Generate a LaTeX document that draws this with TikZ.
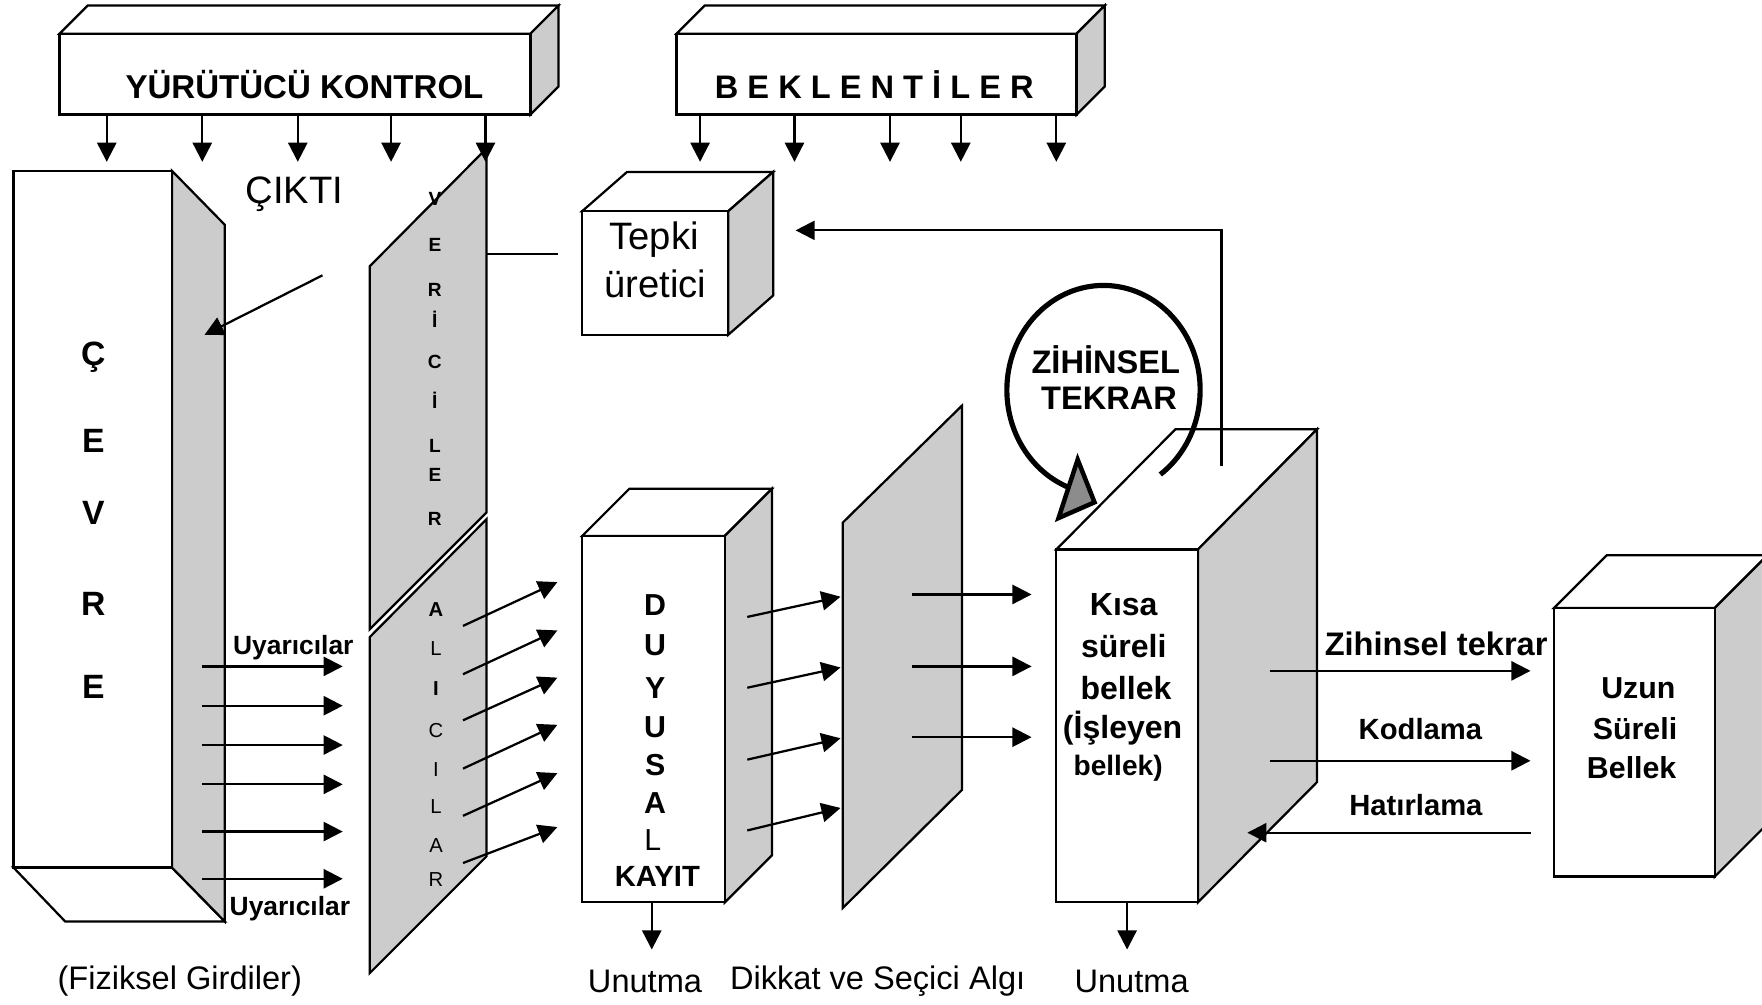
\documentclass[tikz,border=0pt]{standalone}
\usepackage{fontspec}
\setmainfont{Liberation Sans}
\usetikzlibrary{arrows.meta}

\begin{document}
\begin{tikzpicture}[x=0.5pt,y=-0.5pt,line width=1pt,>={Triangle[length=8.5pt,width=8.5pt]},
  face/.style={draw,fill=white},
  side/.style={draw,fill=black!20},
  txt/.style={inner sep=0pt,font=\fontsize{#1}{#1}\selectfont},
  btxt/.style={inner sep=0pt,font=\bfseries\fontsize{#1}{#1}\selectfont}]
  \useasboundingbox (0,0) rectangle (1568,894);
  \clip (0,0) rectangle (1568,894);
  \foreach \nm/\xa/\ya/\xb/\yb/\dx/\dy in {kontrol/53/30/472/102/25/-25,beklenti/602/30/958/102/25/-25,
      tepki/518/188/648/298/40/-35,duyusal/518/477/645/803/42/-42,kisa/940/489/1066/803/106/-107,
      uzun/1383/541/1526/780/47/-47}{
    \draw[face] (\xa,\ya) -- ({\xa+\dx},{\ya+\dy}) -- ({\xb+\dx},{\ya+\dy}) -- (\xb,\ya) -- cycle;
    \draw[side] (\xb,\ya) -- ({\xb+\dx},{\ya+\dy}) -- ({\xb+\dx},{\yb+\dy}) -- (\xb,\yb) -- cycle;
    \draw[face] (\xa,\ya) rectangle (\xb,\yb);
  }
  \draw[face] (12,772) -- (153,772) -- (200,820) -- (58,820) -- cycle;
  \draw[side] (153,152) -- (200,200) -- (200,820) -- (153,772) -- cycle;
  \draw[face] (12,152) rectangle (153,772);
  \draw[side] (329,237) -- (433,132) -- (433,456) -- (329,560) -- cycle;
  \draw[side] (329,567) -- (433,462) -- (433,762) -- (329,866) -- cycle;
  \draw[side] (750,465) -- (856,361) -- (856,703) -- (750,808) -- cycle;

  \node[btxt=14.7] (kontroltxt) at (271,75) {YÜRÜTÜCÜ KONTROL};
  \node[btxt=14.5] (beklentitxt) at (778,75) {B E K L E N T İ L E R};
  \node[txt=17] (cikti) at (262,173) {ÇIKTI};
  \node[txt=17] (tepki1) at (582,213) {Tepki};
  \node[txt=17] (tepki2) at (583,253) {üretici};
  \foreach \l/\y [count=\i] in {Ç/318,E/392,V/456,R/537,E/611}
    \node[btxt=15] (cevre\i) at (83,\y) {\l};
  \foreach \l/\y [count=\i] in {V/177,E/218,R/258,İ/284,C/322,İ/356,L/397,E/423,R/462}
    \node[btxt=8.5] (verici\i) at (387,\y) {\l};
  \foreach \l/\y [count=\i] in {{\bfseries A}/542,L/577,{\bfseries I}/613,C/650,I/685,L/718,A/752,R/783}
    \node[txt=9] (alici\i) at (388,\y) {\l};
  \foreach \l/\y [count=\i] in {D/538,U/574,Y/612,U/647,S/681,A/715}
    \node[btxt=13.5] (duyu\i) at (583,\y) {\l};
  \node[txt=13.5] (duyu7) at (581,748) {L};
  \node[btxt=13] (kayit) at (585,780) {KAYIT};
  \node[btxt=11.75] (uyar1) at (261,576) {Uyarıcılar};
  \node[btxt=11.75] (uyar2) at (258,809) {Uyarıcılar};
  \node[btxt=14.5] (zih1) at (984,320) {ZİHİNSEL};
  \node[btxt=14.5] (zih2) at (987,354) {TEKRAR};
  \node[btxt=14.25] (kisa1) at (1000,538) {Kısa};
  \node[btxt=14.25] (kisa2) at (1000,575) {süreli};
  \node[btxt=14.25] (kisa3) at (1002,612) {bellek};
  \node[btxt=14.25] (kisa4) at (999,648) {(İşleyen};
  \node[btxt=12.5] (kisa5) at (995,684) {bellek)};
  \node[btxt=13.5] (uzun1) at (1458,612) {Uzun};
  \node[btxt=13.5] (uzun2) at (1455,648) {Süreli};
  \node[btxt=13.5] (uzun3) at (1452,683) {Bellek};
  \node[btxt=14.5] (tekrar) at (1278,573) {Zihinsel tekrar};
  \node[btxt=13] (kodlama) at (1264,649) {Kodlama};
  \node[btxt=13] (hatirlama) at (1260,716) {Hatırlama};
  \node[txt=14.5] (fiziksel) at (160,873) {(Fiziksel Girdiler)};
  \node[txt=14.5] (unutma1) at (574,873) {Unutma};
  \node[txt=14.5] (dikkat) at (781,873) {Dikkat ve Seçici Algı};
  \node[txt=14.5] (unutma2) at (1007,873) {Unutma};

  \foreach \x [count=\i] in {95,180,265,348,432,623,707,792,855,940}{
    \coordinate (ya\i) at (\x,102);
    \coordinate (yb\i) at (\x,144);
    \draw[->] (ya\i) -- (yb\i);
  }
  \foreach \y [count=\i] in {593,628,663,698,740,782}{
    \coordinate (ua\i) at (180,\y);
    \coordinate (ub\i) at (305,\y);
    \draw[->] (ua\i) -- (ub\i);
  }
  \foreach \s/\t [count=\i] in {557/518,600/561,641/603,684/645,726/688,768/736}{
    \coordinate (aa\i) at (412,\s);
    \coordinate (ab\i) at (496,\t);
    \draw[->] (aa\i) -- (ab\i);
  }
  \foreach \s/\t [count=\i] in {549/531,612/594,676/657,739/719}{
    \coordinate (da\i) at (665,\s);
    \coordinate (db\i) at (748,\t);
    \draw[->] (da\i) -- (db\i);
  }
  \foreach \y [count=\i] in {529,593,656}{
    \coordinate (sa\i) at (812,\y);
    \coordinate (sb\i) at (918,\y);
    \draw[->] (sa\i) -- (sb\i);
  }
  \coordinate (ca) at (287,245);
  \coordinate (cb) at (182,298);
  \draw[->] (ca) -- (cb);
  \coordinate (ta) at (433,226);
  \coordinate (tb) at (497,226);
  \draw (ta) -- (tb);
  \coordinate (fa) at (1087,415);
  \coordinate (fb) at (708,205);
  \draw[->] (fa) |- (fb);
  \coordinate (za) at (1130,597);
  \coordinate (zb) at (1362,597);
  \draw[->] (za) -- (zb);
  \coordinate (ka) at (1130,677);
  \coordinate (kb) at (1362,677);
  \draw[->] (ka) -- (kb);
  \coordinate (ha) at (1362,741);
  \coordinate (hb) at (1110,741);
  \draw[->] (ha) -- (hb);
  \coordinate (na) at (580,803);
  \coordinate (nb) at (580,845);
  \draw[->] (na) -- (nb);
  \coordinate (ma) at (1003,803);
  \coordinate (mb) at (1003,845);
  \draw[->] (ma) -- (mb);

  \draw[line width=2.3pt] (982,347) ++(54:86 and 93) arc[start angle=54,end angle=-248,x radius=86,y radius=93];
  \draw[line width=2pt,fill=black!45] (959,409) -- (974,447) -- (942,461) -- cycle;
\end{tikzpicture}
\end{document}
